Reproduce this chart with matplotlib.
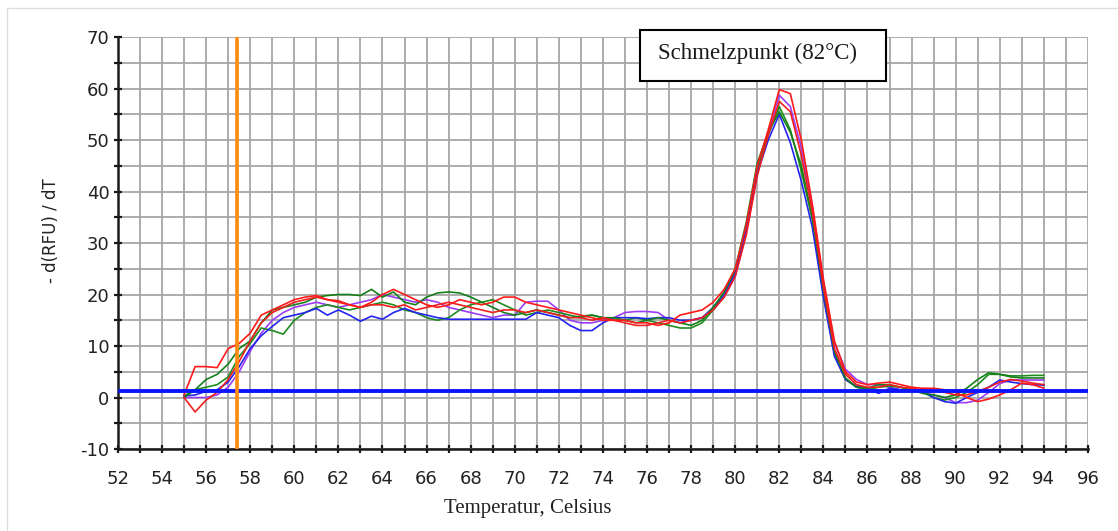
import numpy as np
import matplotlib
matplotlib.use("Agg")
import matplotlib.pyplot as plt
from matplotlib.patches import Rectangle
from matplotlib.ticker import MultipleLocator

plt.rcParams["axes.unicode_minus"] = False

# melt curve readings, one value every 0.5 degC from 55 to 94
temps = np.arange(55.0, 94.01, 0.5)

red_a = [0.5, 6.0, 6.0, 5.8, 9.5, 10.5, 12.5, 16.0, 17.0, 18.0,
         19.0, 19.5, 19.8, 19.0, 18.5, 18.0, 17.5, 18.5, 20.0, 21.0,
         20.0, 19.0, 18.0, 17.5, 18.0, 19.0, 18.5, 18.0, 18.5, 19.5,
         19.5, 18.5, 18.0, 17.5, 17.0, 16.5, 16.0, 15.5, 15.0, 15.0,
         15.0, 14.5, 14.5, 14.0, 14.5, 16.0, 16.5, 17.0, 18.5, 21.0,
         25.0, 33.5, 45.0, 52.0, 59.8, 59.0, 50.0, 37.5, 23.0, 11.0,
         5.0, 3.0, 2.5, 2.8, 3.0, 2.5, 2.0, 1.8, 1.8, 1.5,
         1.0, 0.0, -0.8, -0.3, 0.5, 1.5, 2.8, 2.5, 1.8]

red_b = [0.0, -2.8, -0.5, 1.0, 3.5, 7.0, 11.0, 14.5, 16.5, 17.5,
         18.5, 19.0, 19.5, 19.0, 18.8, 18.0, 17.5, 18.0, 18.0, 17.5,
         18.0, 17.0, 17.5, 18.0, 18.5, 18.0, 17.5, 17.0, 16.5, 17.0,
         17.0, 16.5, 17.0, 16.5, 16.0, 15.5, 15.5, 15.0, 15.5, 15.0,
         14.5, 14.0, 14.0, 14.5, 15.0, 14.5, 15.0, 15.5, 17.0, 19.5,
         23.5, 31.5, 43.0, 51.0, 57.5, 55.5, 47.0, 36.0, 21.5, 9.5,
         4.5, 2.5, 2.0, 2.0, 2.5, 2.0, 1.8, 1.5, 1.2, 1.0,
         0.5, 0.5, 1.2, 2.0, 3.0, 3.5, 3.2, 2.8, 2.5]

green_a = [0.3, 1.5, 2.0, 2.5, 4.0, 8.0, 10.5, 13.5, 13.0, 12.3,
           15.0, 16.5, 17.5, 18.0, 17.5, 17.0, 17.5, 18.0, 18.5, 18.0,
           17.0, 16.5, 15.5, 15.0, 15.5, 17.0, 18.0, 18.5, 19.0, 18.0,
           17.0, 16.0, 16.5, 17.0, 16.5, 16.0, 15.5, 16.0, 15.5, 15.0,
           15.0, 15.5, 15.0, 14.5, 14.0, 13.5, 13.5, 14.5, 17.0, 20.0,
           24.5, 33.0, 44.5, 51.0, 56.5, 52.0, 44.0, 34.5, 20.0, 8.5,
           3.5, 2.0, 1.5, 2.0, 2.2, 2.0, 1.5, 1.0, 0.0, -0.5,
           0.0, 1.0, 2.5, 4.5, 4.5, 4.2, 4.2, 4.3, 4.3]

green_b = [0.0, 1.5, 3.5, 4.5, 6.5, 9.5, 11.0, 14.5, 17.0, 17.5,
           18.0, 18.5, 19.5, 19.8, 20.0, 20.0, 19.8, 21.0, 19.5, 20.5,
           18.5, 18.0, 19.5, 20.3, 20.5, 20.3, 19.5, 18.5, 17.5, 16.5,
           16.0, 16.5, 17.0, 16.5, 16.0, 15.5, 15.8, 16.0, 15.5, 15.5,
           15.0, 14.5, 15.0, 15.5, 15.0, 14.5, 14.0, 15.0, 17.5, 20.5,
           25.0, 34.0, 45.5, 51.5, 55.5, 51.5, 45.0, 35.0, 21.0, 9.0,
           3.8, 2.0, 1.8, 2.5, 2.5, 2.0, 1.5, 0.8, 0.5, 0.0,
           0.5, 1.8, 3.5, 4.8, 4.5, 4.0, 3.8, 3.8, 3.8]

blue = [0.3, 0.5, 1.2, 1.5, 3.0, 6.0, 9.5, 12.0, 13.8, 15.5,
        16.0, 16.5, 17.3, 16.0, 17.0, 16.0, 14.8, 15.8, 15.2, 16.5,
        17.3, 16.5, 16.0, 15.5, 15.2, 15.2, 15.2, 15.2, 15.2, 15.2,
        15.2, 15.2, 16.5, 16.0, 15.5, 14.0, 13.0, 13.0, 14.5, 15.5,
        15.5, 15.5, 15.3, 15.5, 15.5, 15.0, 15.0, 15.5, 17.5, 20.0,
        24.0, 33.0, 43.5, 50.0, 55.0, 49.5, 42.0, 33.0, 19.5, 8.0,
        3.5, 2.2, 1.8, 0.8, 1.8, 1.5, 1.5, 1.2, 0.0, -0.8,
        -1.1, 0.0, 1.0, 2.0, 3.4, 3.0, 2.7, 2.5, 2.4]

purple = [0.0, 0.0, 0.0, 0.5, 2.0, 5.0, 9.0, 12.5, 15.0, 16.5,
          17.5, 18.0, 18.5, 18.0, 17.5, 18.0, 18.5, 19.0, 20.0, 19.5,
          19.0, 18.5, 19.0, 18.5, 17.5, 17.0, 16.5, 16.0, 15.5, 16.0,
          16.0, 18.5, 18.7, 18.7, 17.0, 15.0, 14.5, 14.5, 15.0, 15.5,
          16.5, 16.7, 16.7, 16.5, 15.0, 14.5, 15.0, 15.5, 17.0, 19.5,
          23.5, 32.0, 43.5, 51.5, 58.7, 56.5, 48.5, 37.0, 22.5, 10.5,
          5.5, 3.5, 2.5, 2.5, 2.0, 1.5, 1.5, 1.0, 0.5, 0.0,
          -1.0, -1.0, -0.5, 1.0, 2.7, 3.4, 3.4, 3.4, 3.4]

curves = [
    (purple, "#9b3cf5"),
    (green_a, "#1e8c1e"),
    (blue, "#2424f0"),
    (green_b, "#15801a"),
    (red_b, "#f01e1e"),
    (red_a, "#ff1a1a"),
]

threshold = 1.2
marker_temp = 57.4
melt_label = "Schmelzpunkt (82°C)"

fig = plt.figure(figsize=(11.18, 5.31), dpi=100)
ax = fig.add_axes([0.1055, 0.1544, 0.8676, 0.7759])

for values, color in curves:
    ax.plot(temps, values, color=color, lw=1.2, zorder=3)

ax.axhline(threshold, color="#0a14ff", lw=2.8, zorder=4)
ax.axvline(marker_temp, color="#ff8a10", lw=2.6, zorder=4)

ax.set_xlim(52, 96)
ax.set_ylim(-10, 70)
ax.xaxis.set_major_locator(MultipleLocator(2))
ax.xaxis.set_minor_locator(MultipleLocator(1))
ax.yaxis.set_major_locator(MultipleLocator(10))
ax.yaxis.set_minor_locator(MultipleLocator(5))
ax.grid(which="both", color="#a6a6a6", lw=1.3, zorder=1)
ax.set_axisbelow(True)

for side in ("top", "right"):
    ax.spines[side].set_visible(False)
for side in ("left", "bottom"):
    ax.spines[side].set_linewidth(1.8)
    ax.spines[side].set_color("#1a1a1a")

ax.tick_params(which="both", direction="inout", length=6, width=1.6,
               color="#1a1a1a", labelsize=13, labelcolor="#222222")
ax.tick_params(axis="x", pad=12)
ax.tick_params(axis="y", pad=3)

ax.set_ylabel("- d(RFU) / dT", fontsize=12, color="#222222")
ax.yaxis.set_label_coords(-0.06, 0.53)
fig.text(528 / 1118, 1 - 508 / 531, "Temperatur, Celsius",
         family="Liberation Serif", fontsize=15, ha="center", va="center",
         color="#222222")

# label box for the melting point
fig.patches.append(Rectangle((640 / 1118, 1 - 81 / 531), 246 / 1118, 51 / 531,
                             transform=fig.transFigure, facecolor="white",
                             edgecolor="black", lw=1.5, zorder=5))
fig.text(758 / 1118, 1 - 53 / 531, melt_label, family="Liberation Serif",
         fontsize=16.5, ha="center", va="center", color="#1a1a1a", zorder=6)

# faint frame around the panel
fig.patches.append(Rectangle((7 / 1118, -0.1), 1.2, 1.1 - 8 / 531,
                             transform=fig.transFigure, facecolor="none",
                             edgecolor="#dddddd", lw=1.0))

fig.savefig("out.png", dpi=100)
